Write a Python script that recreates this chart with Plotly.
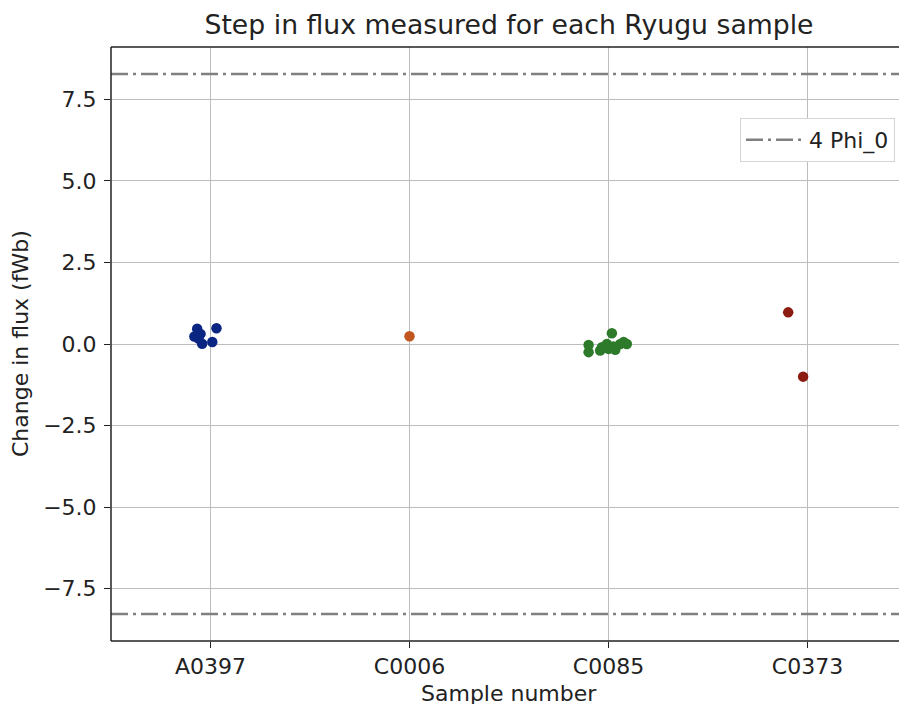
import plotly.graph_objects as go

samples = ["A0397", "C0006", "C0085", "C0373"]
colors = ["#0b2583", "#c1561f", "#2e7a2b", "#8c1c12"]

# jitter offsets (category units) and flux steps (fWb) per sample
a0397_dx = [-0.067, -0.081, -0.05, -0.042, 0.009, 0.03, -0.06]
a0397_flux = [0.47, 0.23, 0.31, 0.01, 0.06, 0.48, 0.17]
c0006_dx = [0.0]
c0006_flux = [0.24]
c0085_dx = [-0.1, -0.1, 0.017, -0.033, -0.042, 0.0, 0.025, 0.059, 0.092, 0.076, -0.008, 0.034]
c0085_flux = [-0.03, -0.25, 0.33, -0.1, -0.2, -0.15, -0.08, 0.0, 0.0, 0.06, 0.0, -0.18]
c0373_dx = [-0.097, -0.022]
c0373_flux = [0.97, -1.0]

phi0 = 2.0678  # fWb
n_phi = 4
x_range = [-0.5, 3.5]
y_range = [-9.1, 9.1]
y_ticks = [-7.5, -5.0, -2.5, 0.0, 2.5, 5.0, 7.5]
y_ticktext = ["\u22127.5", "\u22125.0", "\u22122.5", "0.0", "2.5", "5.0", "7.5"]

groups = [(a0397_dx, a0397_flux), (c0006_dx, c0006_flux),
          (c0085_dx, c0085_flux), (c0373_dx, c0373_flux)]

# the original axes run slightly past the right edge of the 899px picture
W, H = 907, 704
L, T, B = 111, 47, 63
plot_h = H - T - B
plot_w = W - L

fig = go.Figure()
for i, (dx, fl) in enumerate(groups):
    fig.add_trace(go.Scatter(
        x=[i + d for d in dx], y=fl, mode="markers",
        marker=dict(size=10.5, color=colors[i], line=dict(width=0)),
        showlegend=False, name=samples[i]))

font = "DejaVu Sans, sans-serif"
fig.update_layout(
    width=W, height=H,
    margin=dict(l=L, r=0, t=T, b=B, pad=0),
    paper_bgcolor="white", plot_bgcolor="white",
    font=dict(family=font, size=22, color="#222"),
    title=dict(text="Step in flux measured for each Ryugu sample",
               x=0.5, xref="paper", xanchor="center",
               y=1 - 25 / H, yref="container", yanchor="middle",
               font=dict(size=26.7, color="#222")),
    showlegend=True,
    legend=dict(x=(895 - L) / plot_w, xanchor="right", y=(641 - 118) / plot_h, yanchor="top",
                bgcolor="white", bordercolor="#d4d4d4", borderwidth=1,
                font=dict(size=22), itemwidth=58),
    xaxis=dict(range=x_range, tickmode="array", tickvals=list(range(len(samples))),
               ticktext=samples, showgrid=True, gridcolor="#bdbdbd", gridwidth=1.2,
               ticks="outside", ticklen=6, tickwidth=1.3, tickcolor="#222",
               zeroline=False, showline=False),
    yaxis=dict(range=y_range, tickmode="array", tickvals=y_ticks, ticktext=y_ticktext,
               showgrid=True, gridcolor="#bdbdbd", gridwidth=1.2,
               ticks="outside", ticklen=6, tickwidth=1.3, tickcolor="#222",
               ticklabelstandoff=3,
               zeroline=False, showline=False),
    annotations=[
        dict(text="Sample number", xref="paper", yref="paper", x=0.5, y=(641 - 693) / plot_h,
             xanchor="center", yanchor="middle", showarrow=False, font=dict(size=22)),
        dict(text="Change in flux (fWb)", xref="paper", yref="paper", x=(20 - L) / plot_w,
             y=0.5, xanchor="center", yanchor="middle", textangle=-90, showarrow=False,
             font=dict(size=22)),
    ],
)

line_style = dict(color="#808080", width=2.5, dash="17px,5px,3px,5px")
fig.add_hline(y=n_phi * phi0, line=line_style, showlegend=True, name="4 Phi_0", layer="above")
fig.add_hline(y=-n_phi * phi0, line=line_style, showlegend=False, layer="above")

spine = dict(color="#222", width=1.5)
fig.add_shape(type="line", xref="paper", yref="paper", x0=0, x1=0, y0=0, y1=1,
              line=spine, layer="above")
fig.add_shape(type="line", xref="paper", yref="paper", x0=0, x1=1, y0=0, y1=0,
              line=spine, layer="above")
fig.add_shape(type="line", xref="paper", yref="paper", x0=0, x1=1, y0=1, y1=1,
              line=spine, layer="above")

fig.write_html(
    "out.html",
    config={"displayModeBar": False},
    post_script="document.body.style.margin='0';"
                "document.documentElement.style.overflow='hidden';"
                "document.body.style.overflow='hidden';",
)
